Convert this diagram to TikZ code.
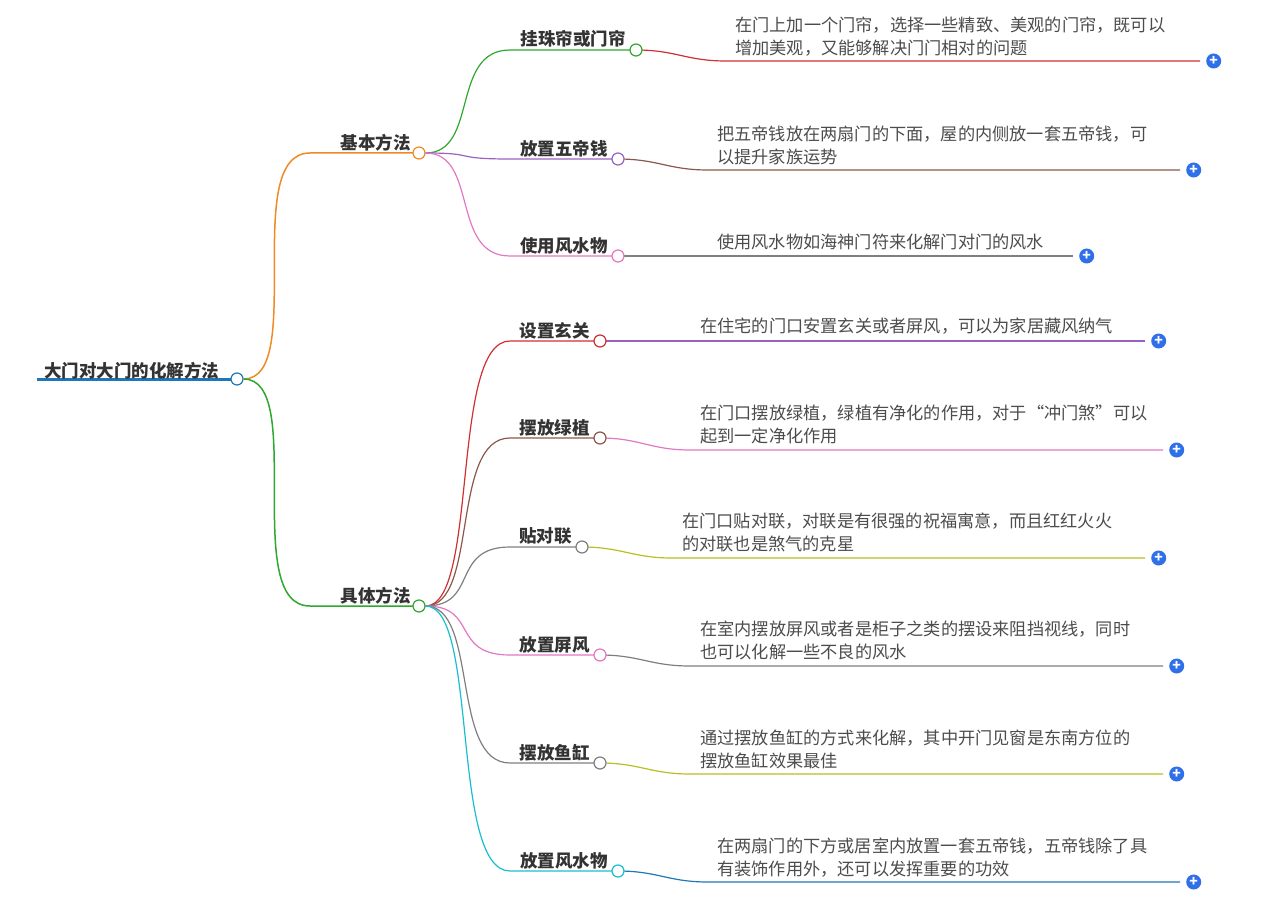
\documentclass[tikz,border=0pt]{standalone}
\usepackage{fontspec}
\setmainfont{Noto Sans CJK SC}
\usetikzlibrary{positioning}
\definecolor{cOrange}{HTML}{F08A24}
\definecolor{cGreen}{HTML}{2EA82E}
\definecolor{cRed}{HTML}{D03030}
\definecolor{cPurple}{HTML}{9A62C0}
\definecolor{cBrown}{HTML}{8C564B}
\definecolor{cPink}{HTML}{E377C2}
\definecolor{cGray}{HTML}{7F7F7F}
\definecolor{cOlive}{HTML}{BCBD22}
\definecolor{cCyan}{HTML}{17BECF}
\definecolor{cBlue}{HTML}{1F77B4}
\definecolor{cPlus}{HTML}{2F6FE8}
\tikzset{
  knob/.style={circle, draw=#1, fill=white, line width=1.2pt, inner sep=0pt, minimum size=12pt},
  plusbtn/.style={circle, fill=cPlus, inner sep=0pt, minimum size=15pt, text=white, font=\bfseries\fontsize{14}{14}\selectfont},
  lbl/.style={font=\bfseries\fontsize{17.5}{19}\selectfont, text=black!80, anchor=south east, inner sep=2pt},
  desc/.style={font=\fontsize{17.2}{23}\selectfont, text=black!70, anchor=north west, align=left, inner sep=0pt}
}
\begin{document}
\begin{tikzpicture}[x=1pt, y=-1pt]
  \useasboundingbox (0,0) rectangle (1264,904);

  % Wurzel
  \draw[cBlue, line width=3pt] (37,379) -- (237,379);
  \node[lbl, anchor=south west] (root) at (42,381) {大门对大门的化解方法};
  \node[knob=cBlue] (r) at (237,379) {};

  % Hauptzweige
  \foreach \name/\y/\col/\txt in {basis/153/cOrange/基本方法, konkret/606/cGreen/具体方法}
  {
    \draw[\col, line width=1.5pt] (r) .. controls +(70,0) and +(-70,0) .. (310,\y) -- (419,\y);
    \node[lbl] (\name-l) at (413,\y) {\txt};
    \node[knob=\col] (\name) at (419,\y) {};
  }

  % Unterzweige
  \foreach \p/\x/\y/\col/\lcol/\ly/\lend in {
    basis/636/50/cGreen/cRed/61/1200, basis/618/159/cPurple/cBrown/170/1180,
    basis/618/256/cPink/cGray/256/1073, konkret/600/341/cRed/cPurple/341/1145,
    konkret/600/438/cBrown/cPink/450/1163, konkret/582/547/cGray/cOlive/558/1145,
    konkret/600/655/cPink/cGray/666/1163, konkret/600/763/cGray/cOlive/774/1163,
    konkret/618/871/cCyan/cBlue/882/1180}
  {
    \draw[\col, line width=1.2pt] (\p) .. controls +(60,0) and +(-60,0) .. (510,\y) -- (\x,\y);
    \draw[\lcol, line width=1.2pt] (\x,\y) .. controls +(40,0) and +(-40,0) .. (\x+90,\ly) -- (\lend,\ly) coordinate (e);
    \node[knob=\col] (k) at (\x,\y) {};
    \node[plusbtn, right=6pt of e] {+};
  }

  % Beschriftungen
  \foreach \x/\y/\txt in {636/50/挂珠帘或门帘, 618/159/放置五帝钱, 618/256/使用风水物,
    600/341/设置玄关, 600/438/摆放绿植, 582/547/贴对联, 600/655/放置屏风, 600/763/摆放鱼缸, 618/871/放置风水物}
    \node[lbl] at (\x-8,\y) {\txt};

  \foreach \x/\y/\txt in {
    735/17/{在门上加一个门帘，选择一些精致、美观的门帘，既可以\\增加美观，又能够解决门门相对的问题},
    717/126/{把五帝钱放在两扇门的下面，屋的内侧放一套五帝钱，可\\以提升家族运势},
    717/234/{使用风水物如海神门符来化解门对门的风水},
    700/318/{在住宅的门口安置玄关或者屏风，可以为家居藏风纳气},
    700/405/{在门口摆放绿植，绿植有净化的作用，对于“冲门煞”可以\\起到一定净化作用},
    682/513/{在门口贴对联，对联是有很强的祝福寓意，而且红红火火\\的对联也是煞气的克星},
    700/621/{在室内摆放屏风或者是柜子之类的摆设来阻挡视线，同时\\也可以化解一些不良的风水},
    700/730/{通过摆放鱼缸的方式来化解，其中开门见窗是东南方位的\\摆放鱼缸效果最佳},
    717/838/{在两扇门的下方或居室内放置一套五帝钱，五帝钱除了具\\有装饰作用外，还可以发挥重要的功效}}
    \node[desc] at (\x,\y) {\txt};
\end{tikzpicture}
\end{document}
